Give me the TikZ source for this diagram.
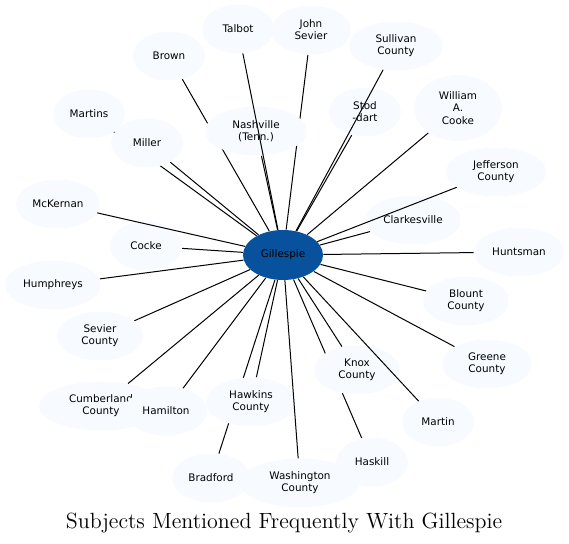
\documentclass[tikz,border=0pt]{standalone}
\usepackage{fontspec}
\usepackage{tikz}
\usetikzlibrary{shapes.geometric}
\newfontfamily\labelfont{DejaVu Sans}
\definecolor{subjfill}{HTML}{F7FBFF}
\definecolor{hubfill}{HTML}{08519C}
\pgfdeclarelayer{edges}
\pgfsetlayers{edges,main}

\begin{document}
\begin{tikzpicture}[
		x=0.5pt, y=-0.5pt,
		line cap=round,
		line join=round,
		subj/.style={ellipse, fill=subjfill, inner sep=0pt, align=center,
			minimum width=36pt, minimum height=24.5pt,
			font=\labelfont\fontsize{5.2}{6.1}\selectfont},
		hub/.style={subj, fill=hubfill, minimum width=40pt, minimum height=25pt},
		link/.style={line width=0.5pt}
		]
		\useasboundingbox (0,0) rectangle (569,544);
		
		% Hub
		\node[hub] (gil) at (283,255) {Gillespie};
		
		% Subjects, top row first
		\node[subj] (talbot) at (238,29) {Talbot};
		\node[subj, minimum width=40pt] (jsevier) at (311,30) {John\\Sevier};
		\node[subj, minimum width=47pt] (sullivan) at (396,46) {Sullivan\\County};
		\node[subj] (brown) at (169,56) {Brown};
		\node[subj] (stoddart) at (365,112) {Stod\\-dart};
		\node[subj, minimum width=44pt, minimum height=33pt] (cooke) at (458,108) {William\\A.\\Cooke};
		\node[subj] (martins) at (89,114) {Martins};
		\node[subj, minimum width=51pt] (nashville) at (256,131) {Nashville\\(Tenn.)};
		\node[subj] (miller) at (147,143) {Miller};
		\node[subj, minimum width=50pt] (jefferson) at (496,172) {Jefferson\\County};
		\node[subj, minimum width=42pt] (mckernan) at (58,204) {McKernan};
		\node[subj, minimum width=48pt] (clarkesville) at (413,220) {Clarkesville};
		\node[subj] (cocke) at (146,246) {Cocke};
		\node[subj, minimum width=45pt] (huntsman) at (519,252) {Huntsman};
		\node[subj, minimum width=48pt] (humphreys) at (53,285) {Humphreys};
		\node[subj, minimum width=43pt] (blount) at (466,301) {Blount\\County};
		\node[subj, minimum width=43pt] (sevierco) at (100,336) {Sevier\\County};
		\node[subj, minimum width=45pt] (greene) at (487,364) {Greene\\County};
		\node[subj, minimum width=43pt] (knox) at (357,370) {Knox\\County};
		\node[subj, minimum width=62pt] (cumberland) at (101,406) {Cumberland\\County};
		\node[subj, minimum width=41pt] (hamilton) at (166,411) {Hamilton};
		\node[subj, minimum width=45pt] (hawkins) at (251,402) {Hawkins\\County};
		\node[subj] (martin) at (438,422) {Martin};
		\node[subj] (haskill) at (372,462) {Haskill};
		\node[subj, minimum width=39pt] (bradford) at (211,478) {Bradford};
		\node[subj, minimum width=60pt] (washington) at (300,483) {Washington\\County};
		
		% Links under the nodes
		\begin{pgfonlayer}{edges}
			\foreach \s in {brown,jsevier,martins,nashville,miller,stoddart,cooke,
				clarkesville,cocke,huntsman,humphreys,blount,sevierco,
				greene,knox,cumberland,hamilton,hawkins,bradford,haskill}
			\draw[link] (gil) -- (\s);
		\end{pgfonlayer}
		
		% Links drawn over the nodes
		\foreach \s in {talbot,sullivan,jefferson,mckernan,martin,washington}
		\draw[link] (gil) -- (\s);
		
		% Title
		\node[font=\fontsize{11}{13}\selectfont] (title) at (284,523) {Subjects Mentioned Frequently With Gillespie};
	\end{tikzpicture}
\end{document}
